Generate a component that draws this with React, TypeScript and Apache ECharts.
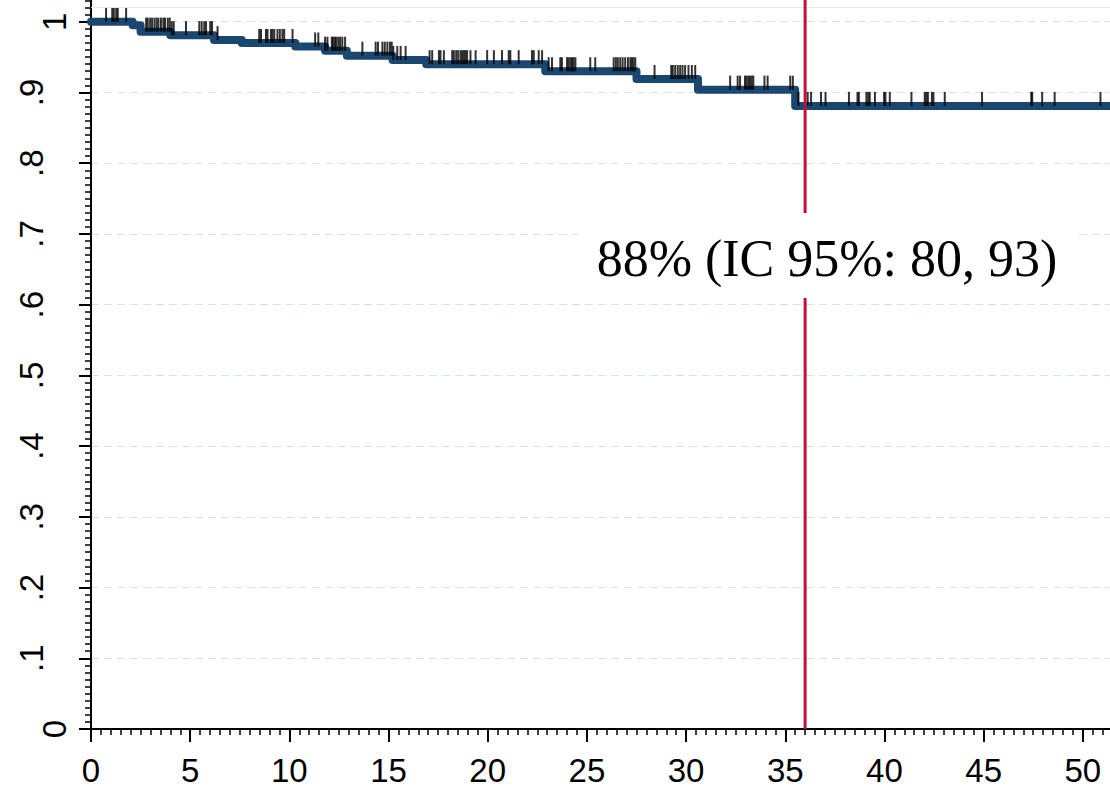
import React, { useEffect, useRef } from 'react';
import * as echarts from 'echarts';

// Kaplan–Meier step function (time in months, survival proportion)
const eventTimes = [0, 2.1, 2.5, 4.0, 6.2, 7.6, 10.3, 11.8, 12.9, 15.2, 16.9, 22.9, 27.5, 30.6, 35.5];
const survival = [1.0, 0.995, 0.986, 0.981, 0.974, 0.97, 0.965, 0.959, 0.952, 0.946, 0.94, 0.93, 0.919, 0.904, 0.881];
const followUpEnd = 51.5;

// Censored observations (times)
const censorTimes = [
  0.76, 1.07, 1.15, 1.27, 1.35, 1.77,
  2.78, 2.86, 2.98, 3.08, 3.2, 3.31, 3.4, 3.53, 3.65, 3.73, 3.87, 3.97, 4.07, 4.17,
  4.79, 5.46, 5.58, 5.71, 5.8, 6.01, 6.1, 6.38,
  8.48, 8.57, 8.82, 8.9, 9.07, 9.15, 9.24, 9.4, 9.52, 9.65, 9.74, 10.16,
  11.3, 11.46, 11.8, 11.92, 12.14, 12.2, 12.3, 12.37, 12.47, 12.56, 12.67, 12.81,
  13.68, 14.35, 14.47, 14.69, 14.81, 14.94, 15.07, 15.16, 15.24, 15.44, 15.61, 15.86,
  17.07, 17.2, 17.54, 17.62, 17.79, 18.21, 18.29, 18.41, 18.51, 18.63, 18.71, 18.8, 18.88, 18.96, 19.13, 19.39,
  19.97, 20.31, 20.72, 21.06, 21.14, 21.56, 22.23, 22.32, 22.57, 22.74,
  23.07, 23.24, 23.66, 23.74, 24.0, 24.08, 24.17, 24.25, 24.33, 24.42,
  25.17, 25.42, 26.35, 26.46, 26.56, 26.68, 26.8, 26.93, 27.07, 27.19, 27.27, 27.35, 27.44,
  28.41, 29.25, 29.33, 29.45, 29.58, 29.7, 29.82, 29.95, 30.12, 30.29, 30.46,
  32.22, 32.6, 32.72, 32.97, 33.05, 33.14, 33.22, 33.31, 33.39, 33.95, 34.11,
  35.25, 35.38, 35.66, 36.0, 36.13, 36.3, 36.8, 37.03,
  38.21, 38.64, 38.71, 39.09, 39.18, 39.26, 39.52, 39.98, 40.05, 40.27, 41.36,
  42.03, 42.11, 42.19, 42.39, 42.47, 43.04, 44.92, 47.4, 47.45, 47.95, 48.58, 50.89,
];

const xTickValues = [0, 5, 10, 15, 20, 25, 30, 35, 40, 45, 50];
const yTickLabels = ['0', '.1', '.2', '.3', '.4', '.5', '.6', '.7', '.8', '.9', '1'];

const refTime = 36;
const annotation = '88% (IC 95%: 80, 93)';

const SANS = '"Liberation Sans", Arial, Helvetica, sans-serif';
const SERIF = '"Liberation Serif", "Times New Roman", Times, serif';

// canvas is larger than the window so that axis extents land on whole tick intervals
const OFFSET_TOP = 52;

function survAt(t: number): number {
  let s = survival[0];
  for (let i = 0; i < eventTimes.length; i++) {
    if (eventTimes[i] <= t) s = survival[i];
  }
  return s;
}

export default function App() {
  const ref = useRef<HTMLDivElement>(null);

  useEffect(() => {
    if (!ref.current) return;
    const chart = echarts.init(ref.current, null, { renderer: 'svg' });

    const curve = eventTimes.map((t, i) => [t, survival[i]]);
    curve.push([followUpEnd, survival[survival.length - 1]]);
    const censored = censorTimes.map((t) => [t, survAt(t)]);

    chart.setOption({
      animation: false,
      backgroundColor: '#ffffff',
      grid: { left: 91, right: 1, top: 0, bottom: 59, containLabel: false },
      xAxis: {
        type: 'value',
        min: 0,
        max: 55,
        interval: 5,
        axisLine: { show: true, onZero: false, lineStyle: { color: '#000', width: 2 } },
        axisTick: { show: true, length: 13, lineStyle: { color: '#000', width: 2 } },
        minorTick: { show: true, splitNumber: 10, length: 6, lineStyle: { color: '#000', width: 1.5 } },
        axisLabel: {
          color: '#000',
          fontSize: 33,
          fontFamily: SANS,
          margin: 25,
          formatter: (v: number) => (xTickValues.indexOf(v) >= 0 ? String(v) : ''),
        },
        splitLine: { show: false },
      },
      yAxis: {
        type: 'value',
        min: 0,
        max: 1.1,
        interval: 0.1,
        axisLine: { show: true, onZero: false, lineStyle: { color: '#000', width: 2 } },
        axisTick: { show: true, length: 12, lineStyle: { color: '#000', width: 2 } },
        minorTick: { show: true, splitNumber: 10, length: 6, lineStyle: { color: '#000', width: 1.5 } },
        axisLabel: {
          rotate: 90,
          margin: 20,
          color: '#000',
          formatter: (v: number) => {
            const idx = Math.round(v * 10);
            if (idx > 10) return '';
            const lab = yTickLabels[idx];
            return lab.charAt(0) === '.' ? `{d|${lab}}` : `{n|${lab}}`;
          },
          rich: {
            n: { fontSize: 33, fontFamily: SANS, color: '#000' },
            d: { fontSize: 33, fontFamily: SANS, color: '#000', padding: [0, 0, 23, 0] },
          },
        },
        splitLine: { show: true, lineStyle: { color: '#d8e2e9', width: 1, type: [8, 5] } },
      },
      series: [
        {
          type: 'line',
          name: 'KM',
          data: curve,
          step: 'end',
          showSymbol: false,
          symbol: 'none',
          z: 3,
          lineStyle: { color: '#1a476f', width: 8, cap: 'round', join: 'round' },
          markLine: {
            silent: true,
            symbol: 'none',
            label: { show: false },
            lineStyle: { color: '#e1e8ee', width: 1, type: 'solid' },
            data: [{ yAxis: 1.02 }],
          },
        },
        {
          type: 'scatter',
          name: 'censored',
          data: censored,
          symbol: 'rect',
          symbolSize: [2, 14],
          symbolOffset: [0, -7],
          z: 4,
          itemStyle: { color: '#000' },
        },
        {
          type: 'line',
          name: 'ref',
          data: [[refTime, 0], [refTime, 1.1]],
          showSymbol: false,
          symbol: 'none',
          z: 5,
          lineStyle: { color: '#c41038', width: 3 },
        },
      ],
      graphic: [
        {
          type: 'rect',
          z: 10,
          shape: { x: 578, y: 213 + OFFSET_TOP, width: 500, height: 85 },
          style: { fill: '#ffffff' },
        },
        {
          type: 'text',
          z: 11,
          x: 827,
          y: 258 + OFFSET_TOP,
          style: {
            text: annotation,
            fill: '#000',
            font: `52px ${SERIF}`,
            align: 'center',
            verticalAlign: 'middle',
          },
        },
      ],
    });

    return () => chart.dispose();
  }, []);

  return (
    <div
      ref={ref}
      style={{
        position: 'fixed',
        left: 0,
        top: -OFFSET_TOP,
        width: 1185,
        height: 788 + OFFSET_TOP,
        background: '#fff',
      }}
    />
  );
}
